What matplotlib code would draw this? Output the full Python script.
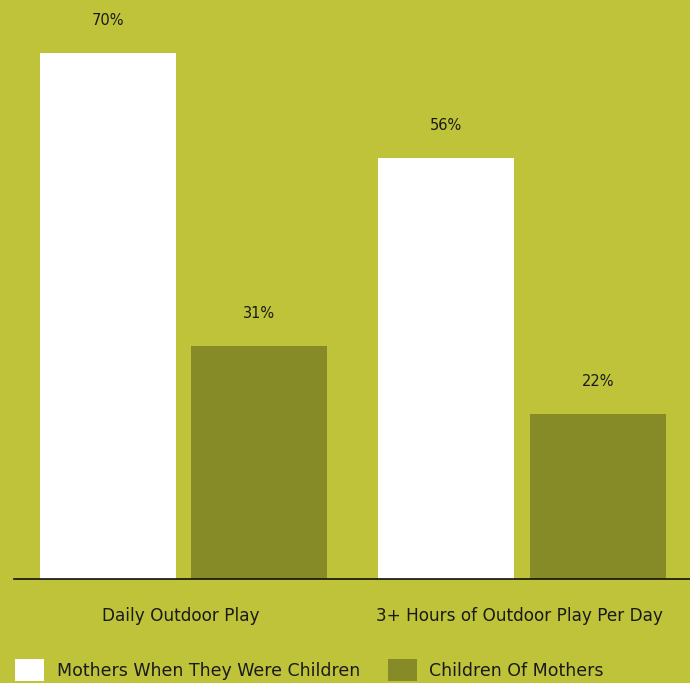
import matplotlib
matplotlib.use("Agg")
from matplotlib import pyplot as plt
from matplotlib.patches import Patch
import numpy as np

categories = ["Daily Outdoor Play", "3+ Hours of Outdoor Play Per Day"]
mothers = [70, 56]
children = [31, 22]
series_names = ["Mothers When They Were Children", "Children Of Mothers"]

bg = "#BFC33A"
white = "#FFFFFF"
olive = "#868B28"
txt = "#1A1A1A"

W, H = 690, 683
fig = plt.figure(figsize=(W / 100, H / 100), dpi=100, facecolor=bg)
ax = fig.add_axes([14 / W, (H - 579) / H, 1 - 14 / W, 579 / H])
ax.set_facecolor(bg)

x = np.arange(len(categories))
width = 0.402
offset = 0.224
b1 = ax.bar(x - offset, mothers, width, color=white)
b2 = ax.bar(x + offset, children, width, color=olive)

for bars, vals in [(b1, mothers), (b2, children)]:
    for rect, v in zip(bars, vals):
        ax.annotate(f"{v}%", (rect.get_x() + rect.get_width() / 2, v),
                    xytext=(0, 18), textcoords="offset points",
                    ha="center", va="bottom", fontsize=10.5, color=txt)

ax.set_xlim(-0.5007, 1.4963)
ax.set_ylim(0, 77.05)
ax.set_xticks(x - 0.008)
ax.set_xticklabels(categories, fontsize=12.2, color=txt)
ax.tick_params(axis="x", length=0, pad=20)
ax.set_yticks([])
for s in ["top", "right", "left"]:
    ax.spines[s].set_visible(False)
ax.spines["bottom"].set_color("#111111")
ax.spines["bottom"].set_linewidth(1.2)

handles = [Patch(facecolor=white), Patch(facecolor=olive)]
fig.legend(handles, series_names, loc="upper left",
           bbox_to_anchor=(8 / W, 1 - 652 / H), ncol=2, frameon=False,
           fontsize=12.5, labelcolor=txt, handlelength=1.7, handleheight=1.6,
           handletextpad=0.7, columnspacing=1.6, borderaxespad=0)

fig.savefig("out.png", dpi=100, facecolor=bg)
